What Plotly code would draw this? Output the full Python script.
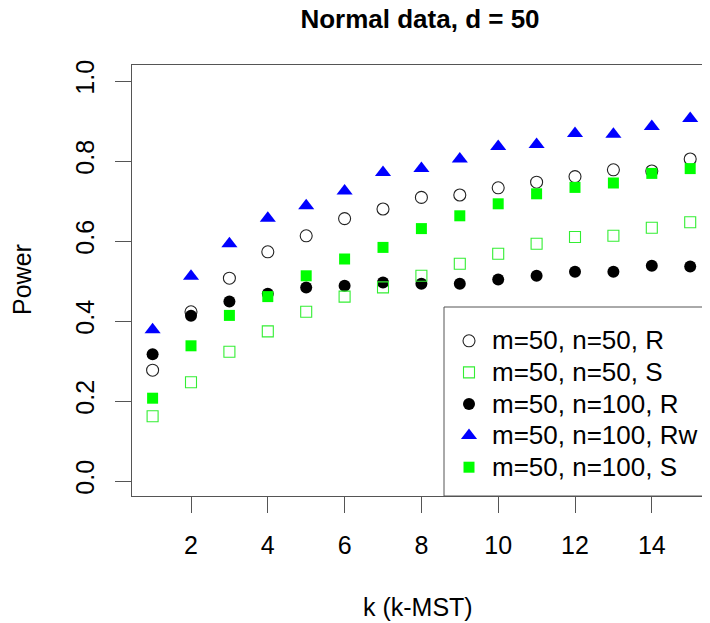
import plotly.graph_objects as go

# ---- data ----
k_values = list(range(1, 16))
r_m50_n50 = [0.277, 0.423, 0.507, 0.573, 0.613, 0.656, 0.680, 0.709, 0.715, 0.733, 0.747, 0.761, 0.778, 0.775, 0.805]
s_m50_n50 = [0.162, 0.247, 0.323, 0.374, 0.423, 0.461, 0.484, 0.513, 0.543, 0.568, 0.593, 0.610, 0.613, 0.633, 0.647]
r_m50_n100 = [0.317, 0.413, 0.449, 0.468, 0.484, 0.488, 0.496, 0.493, 0.493, 0.504, 0.513, 0.523, 0.523, 0.538, 0.536]
rw_m50_n100 = [0.378, 0.512, 0.593, 0.657, 0.688, 0.725, 0.771, 0.781, 0.805, 0.836, 0.841, 0.869, 0.867, 0.886, 0.906]
s_m50_n100 = [0.207, 0.338, 0.414, 0.461, 0.513, 0.555, 0.584, 0.631, 0.663, 0.693, 0.718, 0.734, 0.745, 0.769, 0.781]

x_ticks = [2, 4, 6, 8, 10, 12, 14]
y_ticks = [0.0, 0.2, 0.4, 0.6, 0.8, 1.0]
y_tick_labels = ["0.0", "0.2", "0.4", "0.6", "0.8", "1.0"]

title_text = "Normal data, d = 50"
x_label = "k (k-MST)"
y_label = "Power"
series_names = ["m=50, n=50, R", "m=50, n=50, S", "m=50, n=100, R", "m=50, n=100, Rw", "m=50, n=100, S"]

FONT = "Liberation Sans, Arial, Helvetica, sans-serif"


def leg(name):
    return '<span style="font-size:26px">' + name + '</span>'


fig = go.Figure()

# drawing order (legend order set by legendrank)
fig.add_trace(go.Scatter(
    x=k_values, y=r_m50_n50, mode="markers", name=leg(series_names[0]), legendrank=1,
    marker=dict(symbol="circle-open", size=12, color="#222222", line=dict(width=1.1, color="#222222"))))
fig.add_trace(go.Scatter(
    x=k_values, y=r_m50_n100, mode="markers", name=leg(series_names[2]), legendrank=3,
    marker=dict(symbol="circle", size=12, color="black", line=dict(width=0))))
fig.add_trace(go.Scatter(
    x=k_values, y=rw_m50_n100, mode="markers", name=leg(series_names[3]), legendrank=4,
    marker=dict(symbol="triangle-up", size=14, color="#0000FF", line=dict(width=0))))
fig.add_trace(go.Scatter(
    x=k_values, y=s_m50_n50, mode="markers", name=leg(series_names[1]), legendrank=2,
    marker=dict(symbol="square-open", size=11, color="#33ee33", line=dict(width=1.1, color="#33ee33"))))
fig.add_trace(go.Scatter(
    x=k_values, y=s_m50_n100, mode="markers", name=leg(series_names[4]), legendrank=5,
    marker=dict(symbol="square", size=11, color="#00FF00", line=dict(width=0))))

# the page body has an 8px default margin: lay out in screen pixels, then shift
OFF = 8
SCREEN_W, SCREEN_H = 710, 623
plot_left, plot_right, plot_top, plot_bottom = 132, 710, 65, 496   # screen px
W, H = SCREEN_W - OFF, SCREEN_H - OFF
L = plot_left - OFF
T = plot_top - OFF
R = SCREEN_W - plot_right
B = H - (plot_bottom - OFF)
plot_w = plot_right - plot_left
plot_h = plot_bottom - plot_top

px_per_unit = 38.4
x0 = 2 - (191 - plot_left) / px_per_unit
x1 = x0 + plot_w / px_per_unit
y0 = (481 - plot_bottom) / 400
y1 = (481 - plot_top) / 400

axis_col = "#555555"

fig.update_layout(
    width=W, height=H,
    margin=dict(l=L, r=R, t=T, b=B, autoexpand=False),
    paper_bgcolor="white", plot_bgcolor="white",
    font=dict(family=FONT, color="black", size=25),
    title=dict(text="<b>" + title_text + "</b>", x=(420 - OFF) / W, xanchor="center",
               y=1 - (19 - OFF) / H, yanchor="middle", yref="container",
               font=dict(family=FONT, size=26, color="black")),
    showlegend=True,
    legend=dict(x=(446 - plot_left) / plot_w, xanchor="left",
                y=(plot_bottom - 320) / plot_h, yanchor="top",
                bgcolor="rgba(0,0,0,0)", borderwidth=0,
                font=dict(family=FONT, size=22, color="black"),
                itemwidth=36, tracegroupgap=0),
    xaxis=dict(range=[x0, x1], tickvals=x_ticks, ticktext=[str(v) for v in x_ticks],
               showgrid=False, zeroline=False, showline=True, linecolor=axis_col, linewidth=1,
               mirror=True, ticks="outside", ticklen=16, tickcolor=axis_col, tickwidth=1,
               ticklabelstandoff=11, tickfont=dict(family=FONT, size=25, color="black")),
    yaxis=dict(range=[y0, y1], tickvals=y_ticks, ticktext=y_tick_labels,
               showgrid=False, zeroline=False, showline=True, linecolor=axis_col, linewidth=1,
               mirror=False, ticks="outside", ticklen=16, tickcolor=axis_col, tickwidth=1,
               tickangle=-90, ticklabelstandoff=11, tickfont=dict(family=FONT, size=25, color="black")),
    shapes=[dict(type="rect", xref="paper", yref="paper",
                 x0=(444 - plot_left) / plot_w, x1=1.05, y0=0, y1=(plot_bottom - 307) / plot_h,
                 line=dict(color=axis_col, width=1), fillcolor="white", layer="above")],
    annotations=[
        dict(text=x_label, xref="paper", yref="paper", x=(418 - plot_left) / plot_w,
             y=-(607 - plot_bottom) / plot_h,
             xanchor="center", yanchor="middle", showarrow=False,
             font=dict(family=FONT, size=25, color="black")),
        dict(text=y_label, xref="paper", yref="paper", x=(22 - plot_left) / plot_w,
             y=(plot_bottom - 280) / plot_h,
             xanchor="center", yanchor="middle", textangle=-90, showarrow=False,
             font=dict(family=FONT, size=25, color="black")),
    ],
)

fig.write_html("out.html")
